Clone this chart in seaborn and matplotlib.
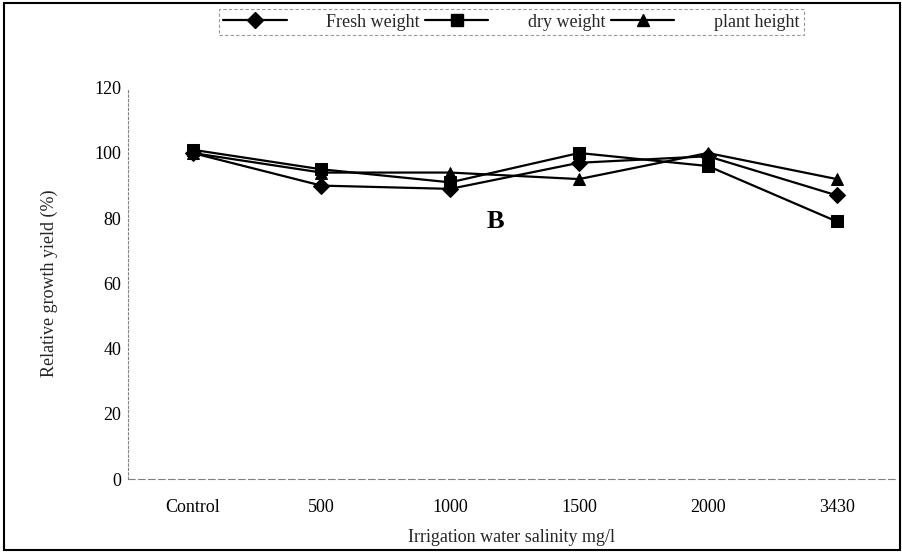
import numpy as np
import pandas as pd
import seaborn as sns
import matplotlib.pyplot as plt
from matplotlib.lines import Line2D
from matplotlib.patches import Rectangle

# 데이터
salinity = ['Control', '500', '1000', '1500', '2000', '3430']
fresh_weight = [100, 90, 89, 97, 99, 87]
dry_weight = [101, 95, 91, 100, 96, 79]
plant_height = [100, 94, 94, 92, 100, 92]

series_names = ['Fresh weight', 'dry weight', 'plant height']
markers = ['D', 's', '^']

df = pd.DataFrame({
    'salinity': salinity * 3,
    'value': fresh_weight + dry_weight + plant_height,
    'series': np.repeat(series_names, len(salinity)),
})

sns.set_style('white')
plt.rcParams['font.family'] = ['Liberation Serif', 'DejaVu Serif']

fig = plt.figure(figsize=(9.02, 5.52), dpi=100)
ax = fig.add_axes([0.142, 0.132, 0.85, 0.709])

sns.lineplot(data=df, x='salinity', y='value', hue='series', style='series',
             markers=dict(zip(series_names, markers)), dashes=False,
             palette=['black'] * 3, linewidth=1.6, markersize=8,
             markeredgecolor='black', sort=False, legend=False, ax=ax)

ax.set_xlim(-0.5, 5.45)
ax.set_ylim(0, 120)
ax.set_yticks([0, 20, 40, 60, 80, 100, 120])
ax.set_xticks(range(len(salinity)))
ax.set_xticklabels(salinity)
ax.tick_params(axis='both', labelsize=13, colors='black')
ax.tick_params(axis='y', length=4, width=0.8, direction='out', color='gray', pad=1)
ax.tick_params(axis='x', length=0, pad=14)
ax.set_xticks(np.arange(-0.5, 5.5, 1), minor=True)
ax.tick_params(axis='x', which='minor', length=4, color='gray')

ax.set_xlabel('Irrigation water salinity mg/l', fontsize=13, labelpad=10)
ax.set_ylabel('Relative growth yield (%)', fontsize=13, labelpad=26)

for side in ['top', 'right']:
    ax.spines[side].set_visible(False)
ax.spines['left'].set_linestyle((0, (2, 2)))
ax.spines['left'].set_color('gray')
ax.spines['left'].set_linewidth(0.8)
ax.spines['bottom'].set_linestyle((0, (6, 3)))
ax.spines['bottom'].set_color('gray')
ax.spines['bottom'].set_linewidth(0.8)

ax.text(2.35, 79, 'B', fontsize=19, fontweight='bold', color='black',
        ha='center', va='center')

handles = [Line2D([], [], color='black', marker=m, markersize=8, linewidth=1.6)
           for m in markers]
leg = fig.legend(handles, series_names, loc='center', bbox_to_anchor=(0.567, 0.96),
                 ncol=3, fontsize=13, handlelength=3.5, handletextpad=2.2,
                 columnspacing=0.3, numpoints=1, frameon=True, fancybox=False,
                 borderpad=0.25)
leg.get_frame().set_edgecolor('gray')
leg.get_frame().set_linestyle((0, (3, 2)))
leg.get_frame().set_linewidth(0.8)

# 바깥 테두리
fig.patches.append(Rectangle((0.004, 0.004), 0.994, 0.99, transform=fig.transFigure,
                             fill=False, edgecolor='black', linewidth=1.5))

fig.savefig('out.png', dpi=100)
